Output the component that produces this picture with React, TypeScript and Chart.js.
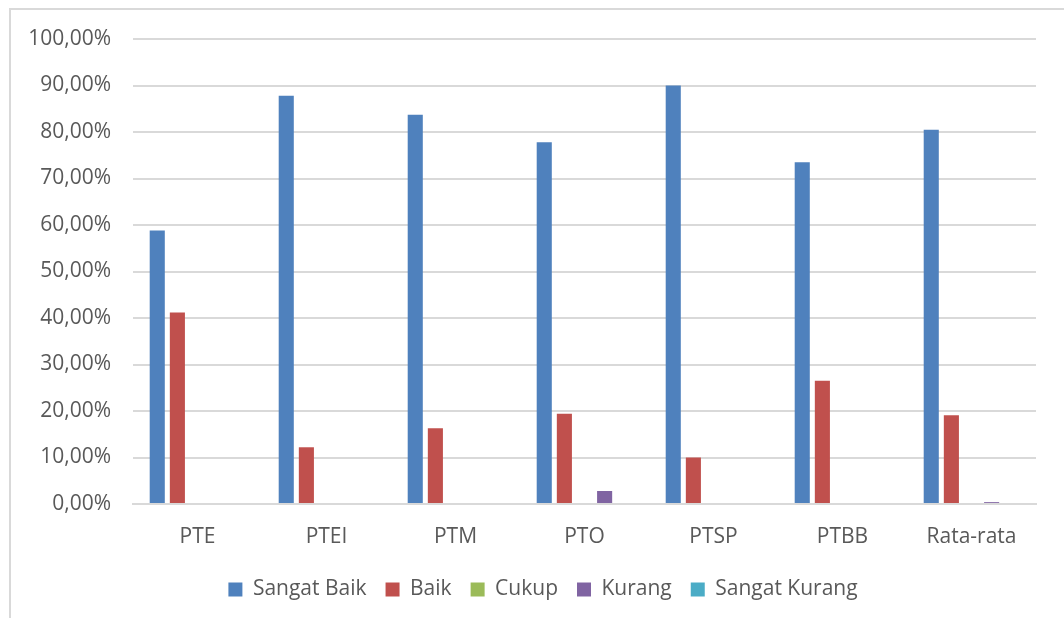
import React, { useEffect, useRef } from "react";
import { Chart, registerables } from "chart.js";

Chart.register(...registerables);

const categories = ["PTE", "PTEI", "PTM", "PTO", "PTSP", "PTBB", "Rata-rata"];
const sangatBaik = [58.8, 87.8, 83.7, 77.8, 90.0, 73.5, 80.5];
const baik = [41.2, 12.2, 16.3, 19.4, 10.0, 26.5, 19.1];
const cukup = [0, 0, 0, 0, 0, 0, 0];
const kurang = [0, 0, 0, 2.8, 0, 0, 0.4];
const sangatKurang = [0, 0, 0, 0, 0, 0, 0];
const seriesNames = ["Sangat Baik", "Baik", "Cukup", "Kurang", "Sangat Kurang"];
const seriesColors = ["#4F81BD", "#C0504D", "#9BBB59", "#8064A2", "#4BACC6"];

const FONT = "'Open Sans', 'Noto Sans', sans-serif";

const shiftLegend = {
  id: "shiftLegend",
  afterLayout(chart: any) {
    const lg = chart.legend;
    if (lg) {
      lg.left += 25;
      lg.right += 25;
    }
  },
};

export default function App() {
  const ref = useRef<HTMLCanvasElement | null>(null);
  useEffect(() => {
    document.body.style.margin = "0";
    const values = [sangatBaik, baik, cukup, kurang, sangatKurang];
    const chart = new Chart(ref.current!, {
      type: "bar",
      data: {
        labels: categories,
        datasets: values.map((v, i) => ({
          label: seriesNames[i],
          data: v,
          backgroundColor: seriesColors[i],
          borderWidth: 0,
          barPercentage: 0.75,
          categoryPercentage: 0.78,
        })),
      },
      plugins: [shiftLegend],
      options: {
        animation: false,
        responsive: false,
        maintainAspectRatio: false,
        layout: { padding: { top: 39, right: 28, bottom: 8, left: 0 } },
        plugins: {
          tooltip: { enabled: false },
          legend: {
            position: "bottom",
            labels: {
              boxWidth: 14,
              boxHeight: 14,
              padding: 19,
              color: "#595959",
              font: { family: FONT, size: 21 },
            },
          },
        },
        scales: {
          x: {
            afterFit: (s: any) => { s.height = 56; },
            grid: { display: false, drawTicks: false },
            border: { color: "#d9d9d9", width: 2 },
            ticks: { color: "#595959", font: { family: FONT, size: 21 }, padding: 20 },
          },
          y: {
            min: 0,
            max: 100,
            afterFit: (s: any) => { s.width = 133; },
            grid: { color: "#d9d9d9", lineWidth: 2, drawTicks: false },
            border: { display: false },
            ticks: {
              stepSize: 10,
              color: "#595959",
              font: { family: FONT, size: 21 },
              padding: 22,
              callback: (v: any) => Number(v).toFixed(2).replace(".", ",") + "%",
            },
          },
        },
      },
    });
    return () => chart.destroy();
  }, []);
  return (
    <div style={{ position: "fixed", left: 0, top: 0, width: 1064, height: 618, overflow: "hidden", background: "#fff" }}>
      <div style={{ position: "absolute", left: 9, top: 8, width: 1100, height: 700, border: "2px solid #d9d9d9", boxSizing: "border-box" }} />
      <canvas ref={ref} width={1064} height={618} style={{ position: "absolute", left: 0, top: 0 }} />
    </div>
  );
}
